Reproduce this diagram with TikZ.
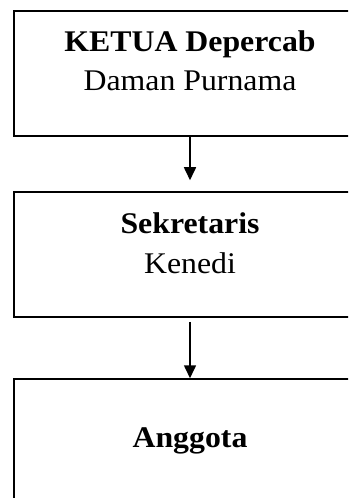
\documentclass[tikz,border=0pt]{standalone}
\usepackage{fontspec}
\setmainfont{Liberation Serif}
\usetikzlibrary{arrows.meta}
\newcommand{\wide}[1]{\scalebox{1.06}[1]{#1}}
\tikzset{
  box/.style={draw, line width=1.5bp, minimum width=352bp, minimum height=125bp, inner sep=0pt},
  txt/.style={anchor=base, inner sep=0pt, font=\fontsize{30bp}{36bp}\selectfont},
  conn/.style={line width=1.6bp, -{Triangle[width=12bp,length=13bp]}}
}
\begin{document}
\begin{tikzpicture}[x=1bp,y=-1bp]
\clip (0,0) rectangle (348,498);
\node[box] (b1) at (190,73.5) {};
\node[box] (b2) at (190,254.5) {};
\node[box] (b3) at (190,441.5) {};
\node[txt] (t1a) at (190,52) {\wide{\bfseries KETUA Depercab}};
\node[txt] (t1b) at (190,91) {\wide{Daman Purnama}};
\node[txt] (t2a) at (190,233) {\wide{\bfseries Sekretaris}};
\node[txt] (t2b) at (190,273) {\wide{Kenedi}};
\node[txt] (t3a) at (190,447) {\wide{\bfseries Anggota}};
\draw[conn, shorten >=11bp] (b1.south) -- (b2.north);
\draw[conn, shorten <=4bp] (b2.south) -- (b3.north);
\end{tikzpicture}
\end{document}
